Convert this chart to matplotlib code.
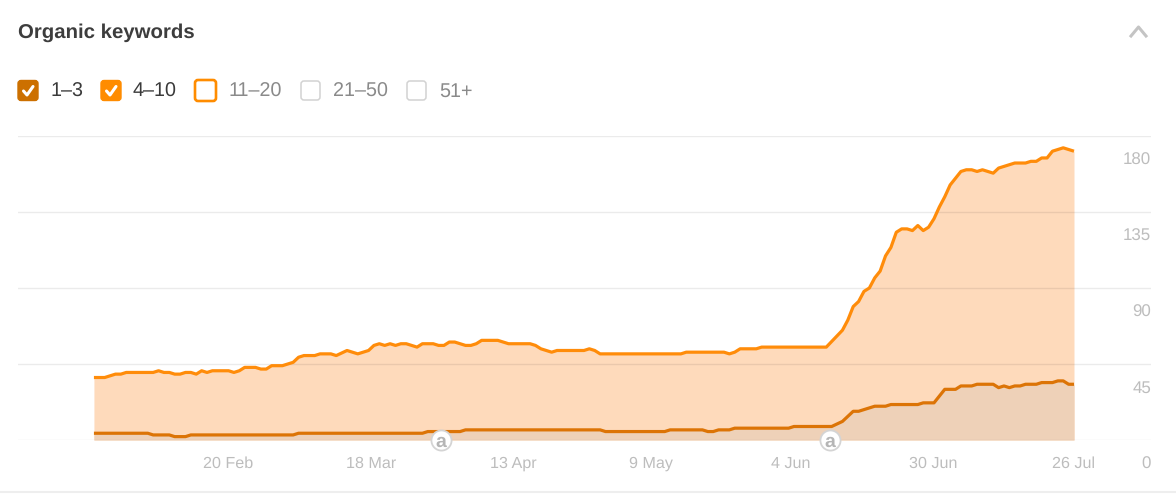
import matplotlib
matplotlib.use('Agg')
import matplotlib.pyplot as plt
from matplotlib.patches import FancyBboxPatch

plt.rcParams['font.family'] = ['Liberation Sans', 'DejaVu Sans']
plt.rcParams['text.hinting'] = 'no_hinting'

# days counted from 25 Jan
days_4_10 = [0, 2, 4, 5, 6, 11, 12, 13, 14, 15, 16, 17, 18, 19, 20, 21, 22, 25, 26, 27, 28, 30, 31, 32, 33, 35, 37,
             38, 39, 41, 42, 44, 45, 47, 49, 51, 52, 53, 54, 55, 56, 57, 58, 60, 61, 63, 64, 65, 66, 67, 69, 70,
             71, 72, 75, 77, 81, 82, 83, 85, 86, 91, 92, 93, 94, 109, 110, 117, 118, 119, 120, 123, 124, 136,
             139, 140, 141, 142, 143, 144, 145, 146, 147, 148, 149, 150, 151, 152, 153, 154, 155, 156, 157, 158,
             159, 160, 161, 162, 163, 164, 165, 166, 167, 168, 169, 170, 171, 172, 173, 174, 175, 176, 177, 178,
             179, 180, 181, 182]
vals_4_10 = [37, 37, 39, 39, 40, 40, 41, 40, 40, 39, 39, 40, 40, 39, 41, 40, 41, 41, 40, 41, 43, 43, 42, 42, 44, 44, 46,
             49, 50, 50, 51, 51, 50, 53, 51, 53, 56, 57, 56, 57, 56, 57, 57, 55, 57, 57, 56, 56, 58, 58, 56, 56,
             57, 59, 59, 57, 57, 56, 54, 52, 53, 53, 54, 53, 51, 51, 52, 52, 51, 52, 54, 54, 55, 55,
             65, 71, 79, 82, 88, 90, 96, 100, 109, 114, 123, 125, 125, 124, 127, 124, 126, 131, 138, 144,
             151, 155, 159, 160, 160, 159, 160, 159, 158, 161, 162, 163, 164, 164, 164, 165, 165, 167, 167, 171,
             172, 173, 172, 171]

days_1_3 = [0, 10, 11, 14, 15, 17, 18, 37, 38, 61, 62, 68, 69, 94, 95, 106, 107, 113, 114, 115, 116, 118, 119, 129, 130,
            137, 139, 141, 142, 144, 145, 147, 148, 153, 154, 156, 158, 159, 160, 161, 163, 164, 167, 168, 169, 170,
            171, 172, 173, 175, 176, 178, 179, 180, 181, 182]
vals_1_3 = [4, 4, 3, 3, 2, 2, 3, 3, 4, 4, 5, 5, 6, 6, 5, 5, 6, 6, 5, 5, 6, 6, 7, 7, 8,
            8, 11, 17, 17, 19, 20, 20, 21, 21, 22, 22, 30, 30, 30, 32, 32, 33, 33, 31, 32, 31,
            32, 32, 33, 33, 34, 34, 35, 35, 33, 33]

# the labels are spaced a little wider than the data
tick_days = [24.9, 51.4, 77.8, 103.4, 129.4, 155.8, 182]
tick_labels = ['20 Feb', '18 Mar', '13 Apr', '9 May', '4 Jun', '30 Jun', '26 Jul']
y_ticks = [0, 45, 90, 135, 180]
note_days = [64.4, 136.6]

legend_names = ['1–3', '4–10', '11–20', '21–50', '51+']

W, H = 1176, 495
fig = plt.figure(figsize=(W / 100, H / 100), dpi=100, facecolor='white')

# plot area, gridlines run from x=18 to x=1151
ax = fig.add_axes([18 / W, 1 - 440 / H, (1151 - 18) / W, (440 - 136) / H])
ax.set_xlim(-14.1, 196.3)
ax.set_ylim(0, 180)
for s in ax.spines.values():
    s.set_visible(False)
ax.set_yticks(y_ticks)
ax.set_yticklabels([])
ax.set_xticks([])
ax.tick_params(length=0)
ax.grid(axis='y', color='black', alpha=0.08, lw=1.0, zorder=3)
ax.set_axisbelow(False)

ax.fill_between(days_4_10, vals_4_10, color='#fedabb', lw=0, zorder=1)
ax.fill_between(days_1_3, vals_1_3, color='#eed1b8', lw=0, zorder=2)
ax.plot(days_4_10, vals_4_10, color='#ff8c0a', lw=2.3, zorder=4, solid_joinstyle='round', solid_capstyle='butt')
ax.plot(days_1_3, vals_1_3, color='#dc7406', lw=2.3, zorder=4, solid_joinstyle='round', solid_capstyle='butt')

# labels sit below their gridlines
for v in y_ticks:
    ax.annotate(str(v), (1, v), xycoords=('axes fraction', 'data'), xytext=(0, -17.4), textcoords='offset points',
                ha='right', va='center', fontsize=12.2, color='#bdbdbd')
for d, t in zip(tick_days, tick_labels):
    ax.annotate(t, (d, 0), xycoords='data', xytext=(0, -17.2), textcoords='offset points',
                ha='center', va='center', fontsize=11.6, color='#bdbdbd')

for d in note_days:
    ax.plot([d], [0], marker='o', ms=14.5, mfc='white', mec='#d4d4d4', mew=1.3, clip_on=False, zorder=6)
    ax.annotate('a', (d, 0), ha='center', va='center_baseline', fontsize=14, fontweight='bold', color='#b5b5b5',
                annotation_clip=False, zorder=7)

# header and legend, in pixel coordinates
ui = fig.add_axes([0, 0, 1, 1], facecolor='none')
ui.set_xlim(0, W)
ui.set_ylim(H, 0)
ui.axis('off')

ui.text(18, 33, 'Organic keywords', fontsize=14.7, fontweight='bold', color='#3d3d3d', va='center', ha='left')
ui.plot([1131, 1138.5, 1146], [36, 27, 36], color='#c4c4c4', lw=2.2)
ui.plot([0, W], [491.5, 491.5], color='#eeeeee', lw=1.5)

box_x = [18, 101, 195, 301, 407]
box_w = [20, 20, 21, 19, 19]
text_x = [51, 133, 228, 333, 439]
face = ['#cc7000', '#ff8c00', 'white', 'white', 'white']
edge = ['#cc7000', '#ff8c00', '#ff8c00', '#d2d2d2', '#d2d2d2']
lw = [1, 1, 1.9, 1.1, 1.1]
txt_col = ['#3a3a3a', '#3a3a3a', '#8a8a8a', '#8a8a8a', '#8a8a8a']
for i, name in enumerate(legend_names):
    bw = box_w[i]
    top = 90.5 - bw / 2
    ui.add_patch(FancyBboxPatch((box_x[i] + 3, top + 3), bw - 6, bw - 6, boxstyle='round,pad=3,rounding_size=3',
                                fc=face[i], ec=edge[i], lw=lw[i]))
    if i < 2:
        bx = box_x[i]
        ui.plot([bx + 5.5, bx + 9, bx + 15], [91, 95, 86.5], color='white', lw=2.2, solid_capstyle='round')
    ui.text(text_x[i], 91.5, name, fontsize=14.2, color=txt_col[i], va='center', ha='left')

fig.savefig('out.png', dpi=100)
